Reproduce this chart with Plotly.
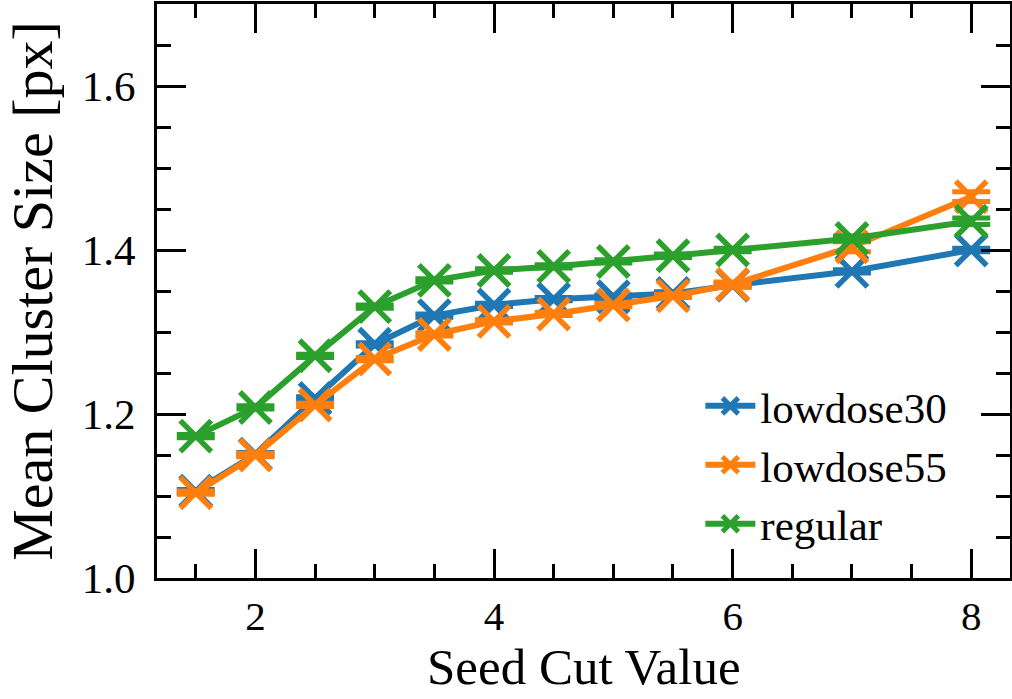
import plotly.graph_objects as go

seed_cut = [1.5, 2, 2.5, 3, 3.5, 4, 4.5, 5, 5.5, 6, 7, 8]

lowdose30 = [1.106, 1.151, 1.219, 1.285, 1.320, 1.333, 1.340, 1.343, 1.347, 1.357, 1.374, 1.400]
lowdose55 = [1.104, 1.150, 1.211, 1.267, 1.297, 1.313, 1.322, 1.333, 1.344, 1.358, 1.404, 1.465]
regular = [1.173, 1.208, 1.271, 1.331, 1.363, 1.375, 1.380, 1.386, 1.393, 1.400, 1.414, 1.435]

err30 = [0.002, 0.002, 0.002, 0.002, 0.002, 0.002, 0.002, 0.002, 0.002, 0.002, 0.002, 0.002]
err55 = [0.002, 0.002, 0.002, 0.002, 0.002, 0.002, 0.002, 0.002, 0.002, 0.003, 0.006, 0.006]
errreg = [0.002, 0.002, 0.002, 0.002, 0.002, 0.002, 0.002, 0.002, 0.002, 0.002, 0.003, 0.004]

series = [
    ("lowdose30", lowdose30, err30, "#1f77b4"),
    ("lowdose55", lowdose55, err55, "#ff7f0e"),
    ("regular", regular, errreg, "#2ca02c"),
]

X_TITLE = "Seed Cut Value"
Y_TITLE = "Mean Cluster Size [px]"

FONT = "Liberation Serif"

fig = go.Figure()
for name, ys, es, col in series:
    fig.add_trace(go.Scatter(
        x=seed_cut, y=ys, name=name, mode="lines+markers",
        line=dict(color=col, width=6),
        marker=dict(symbol="x-thin", size=31, color=col,
                    line=dict(color=col, width=5.5)),
        error_y=dict(type="data", array=es, visible=True, color=col,
                     thickness=5, width=19),
    ))

axis_common = dict(
    showline=True, linecolor="black", linewidth=3, mirror="allticks",
    ticks="inside", ticklen=29, tickwidth=3, tickcolor="black",
    showgrid=False, zeroline=False,
    automargin=False,
)

fig.update_xaxes(
    range=[1.175, 8.325], tick0=0, dtick=2,
    minor=dict(ticks="inside", ticklen=14, tickwidth=3, tickcolor="black", dtick=0.5, tick0=0, showgrid=False),
    ticklabelstandoff=0,
    tickfont=dict(family=FONT, size=41, color="black"),
    **axis_common,
)
fig.update_yaxes(
    range=[1.0, 1.7], tick0=0, dtick=0.2, tickformat=".1f",
    minor=dict(ticks="inside", ticklen=14, tickwidth=3, tickcolor="black", dtick=0.05, tick0=0, showgrid=False),
    title=dict(text=Y_TITLE, font=dict(family=FONT, size=58, color="black"), standoff=16),
    ticklabelstandoff=10,
    tickfont=dict(family=FONT, size=43, color="black"),
    **axis_common,
)

fig.add_annotation(
    text=X_TITLE, xref="paper", yref="paper", x=0.5, y=-0.207,
    xanchor="center", yanchor="bottom", showarrow=False,
    font=dict(family=FONT, size=51, color="black"),
)

fig.update_layout(
    width=1012, height=699,
    margin=dict(l=157, r=2, t=4, b=121),
    paper_bgcolor="white", plot_bgcolor="white",
    showlegend=True,
    legend=dict(
        x=0.637, y=0.197, xanchor="left", yanchor="middle",
        bgcolor="rgba(0,0,0,0)", borderwidth=0,
        font=dict(family=FONT, size=43, color="black"),
        itemwidth=50,
    ),
)

fig.write_html("out.html")
